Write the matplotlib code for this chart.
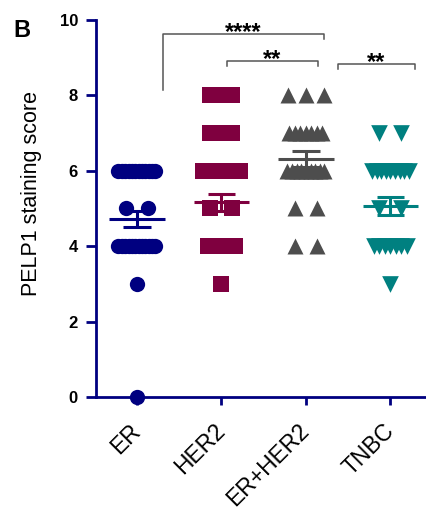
import numpy as np
import matplotlib.pyplot as plt

plt.rcParams['font.family'] = ['Liberation Sans', 'DejaVu Sans']

groups = ['ER', 'HER2', 'ER+HER2', 'TNBC']
colors = ['#000080', '#7f003f', '#4d4d4d', '#008080']
markers = ['o', 's', '^', 'v']
marker_sizes = [11, 12, 11.5, 12]

# staining scores present in each group and how many samples got that score
er_scores = [0, 3, 4, 5, 6]
er_counts = [1, 1, 12, 2, 12]
her2_scores = [3, 4, 5, 6, 7, 8]
her2_counts = [1, 6, 2, 9, 5, 5]
erher2_scores = [4, 5, 6, 7, 8]
erher2_counts = [2, 2, 9, 7, 3]
tnbc_scores = [3, 4, 5, 6, 7]
tnbc_counts = [1, 7, 2, 9, 2]

# mean +/- SEM
means = [4.72, 5.16, 6.31, 5.07]
sems = [0.21, 0.23, 0.22, 0.24]

# significance brackets: (x start, x end, bar height, left leg end, right leg end, label)
brackets = [
    (0.31, 2.21, 9.63, 8.14, 9.50, '****'),
    (1.065, 2.14, 8.91, 8.78, 8.78, '**'),
    (2.38, 3.29, 8.83, 8.70, 8.70, '**'),
]

all_scores = [er_scores, her2_scores, erher2_scores, tnbc_scores]
all_counts = [er_counts, her2_counts, erher2_counts, tnbc_counts]

axis_col = '#000080'

fig = plt.figure(figsize=(4.27, 5.11), dpi=100)
ax = fig.add_axes([96 / 427, 1 - 397 / 511, 336.7 / 427, 377 / 511])
ax.set_xlim(-0.485, 3.5)
ax.set_ylim(0, 10)

px_per_unit = 336.7 / 3.985


def spread(n):
    # horizontal spread (in px) of n points sharing one score
    if n == 1:
        return np.zeros(1)
    if n == 2:
        span = 22
    elif n == 3:
        span = 36
    else:
        span = min(37, 5.5 * (n - 1))
    return np.linspace(-span / 2, span / 2, n)


for i in range(len(groups)):
    # mean and SEM bars (under the points)
    ax.hlines(means[i], i - 0.33, i + 0.33, color=colors[i], lw=2.2, zorder=2)
    ax.vlines(i, means[i] - sems[i], means[i] + sems[i], color=colors[i], lw=2.2, zorder=2)
    ax.hlines([means[i] - sems[i], means[i] + sems[i]], i - 0.165, i + 0.165,
              color=colors[i], lw=2.2, zorder=2)
    xs, ys = [], []
    for score, n in zip(all_scores[i], all_counts[i]):
        xs.extend(i + spread(n) / px_per_unit)
        ys.extend([score] * n)
    ax.scatter(xs, ys, s=marker_sizes[i] ** 2, marker=markers[i], color=colors[i],
               linewidths=0, zorder=3, clip_on=False)

for x0, x1, y, l0, l1, lab in brackets:
    ax.plot([x0, x0, x1, x1], [l0, y, y, l1], color='#555555', lw=1.1, clip_on=False)
    ax.text((x0 + x1) / 2, y - 0.14, lab, ha='center', va='baseline', fontsize=17,
            fontweight='bold')

for side in ['top', 'right']:
    ax.spines[side].set_visible(False)
for side in ['left', 'bottom']:
    ax.spines[side].set_color(axis_col)
    ax.spines[side].set_linewidth(2)

ax.set_yticks(range(0, 11, 2))
ax.set_yticklabels([str(v) for v in range(0, 11, 2)], fontsize=12, fontweight='bold')
ax.set_xticks(range(len(groups)))
ax.set_xticklabels(groups, fontsize=16.5, rotation=45, ha='right', va='center',
                   rotation_mode='anchor')
ax.tick_params(axis='y', length=7, width=2, color=axis_col, pad=6)
ax.tick_params(axis='x', length=6, width=2, color=axis_col, pad=16)

fig.text(37.5 / 427, 1 - 193.5 / 511, 'PELP1 staining score', rotation=90,
         rotation_mode='anchor', ha='center', va='baseline', fontsize=15.5)
fig.text(13 / 427, 1 - 37 / 511, 'B', fontsize=17, fontweight='bold', va='baseline')

fig.savefig('out.png', dpi=100)
